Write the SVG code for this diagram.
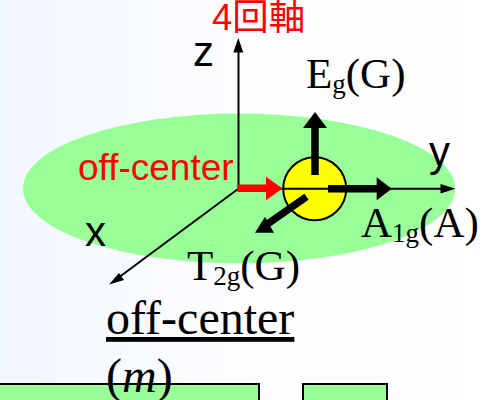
<svg xmlns="http://www.w3.org/2000/svg" width="486" height="400" viewBox="0 0 486 400">
<style>
.s{font-family:"Liberation Sans",Arial,"Noto Sans CJK JP",sans-serif;font-size:37px}
.k{font-size:36.500px}
.l{font-size:42px}
.t{font-family:"Liberation Serif","Times New Roman",serif;font-size:43px;fill:#000}
.b48{font-size:48px}
.u{font-size:27px}
.ax{stroke:#000;stroke-width:2;fill:none}
.b{stroke:#000;stroke-width:7.5;fill:none}
</style>
<defs>
<linearGradient id="bg" x1="0" x2="1" y1="0" y2="0"><stop offset="0" stop-color="#f1f7ff"/><stop offset="0.5" stop-color="#fdfdff"/><stop offset="1" stop-color="#fff"/></linearGradient>
</defs>
<rect id="background" width="486" height="400" fill="url(#bg)"/>
<g id="plane"><ellipse cx="239" cy="188.5" rx="216" ry="75" fill="#99ff99"/></g>
<g id="bars">
<rect x="-10" y="384" width="269" height="30" fill="#99ff99" stroke="#000" stroke-width="2"/>
<rect x="303" y="384" width="84" height="30" fill="#99ff99" stroke="#000" stroke-width="2"/>
</g>
<g id="atom"><circle cx="314.7" cy="188.7" r="31.5" fill="#ffff00" stroke="#000" stroke-width="2"/></g>
<g id="connectors">
<path class="ax" d="M238.500 189V50"/><path d="M238.300 38l-5 14.500h10z"/>
<path class="ax" d="M238 188.700H446"/><path d="M455.500 188.700l-15-4.700v9.400z"/>
<path class="ax" d="M238 189L118 278"/><path d="M109 284.500l15-4.500-5-7z"/>
<path d="M237.500 184.500H266V176.700L282.500 188.500L266 200.300V192H237.500z" fill="#f00"/>
<path class="b" d="M315 175V126"/><path d="M315 112l-12 16h24z"/>
<path class="b" d="M328 188.700H378"/><path d="M391.700 188.700l-15-11.500v23z"/>
<path class="b" d="M306.500 196.700L266 225"/><path d="M255 232.700h19l-9-16z"/>
</g>
<g id="labels">
<text class="s k" x="212" y="30" fill="#f00">4回軸</text>
<text class="s l" x="193" y="66">z</text>
<text class="s l" x="429" y="166">y</text>
<text class="s l" x="85" y="246">x</text>
<text class="s" x="78" y="180" fill="#f00">off-center</text>
<text class="t" x="306" y="88">E<tspan class="u" dy="5">g</tspan><tspan dy="-5">(G)</tspan></text>
<text class="t" x="361" y="237">A<tspan class="u" dy="5">1g</tspan><tspan dy="-5">(A)</tspan></text>
<text class="t" x="187" y="280">T<tspan class="u" dy="5">2g</tspan><tspan dy="-5">(G)</tspan></text>
<text class="t b48" x="106" y="334" text-decoration="underline">off-center</text>
<text class="t b48" x="106" y="392">(<tspan font-style="italic">m</tspan>)</text>
</g>
</svg>
